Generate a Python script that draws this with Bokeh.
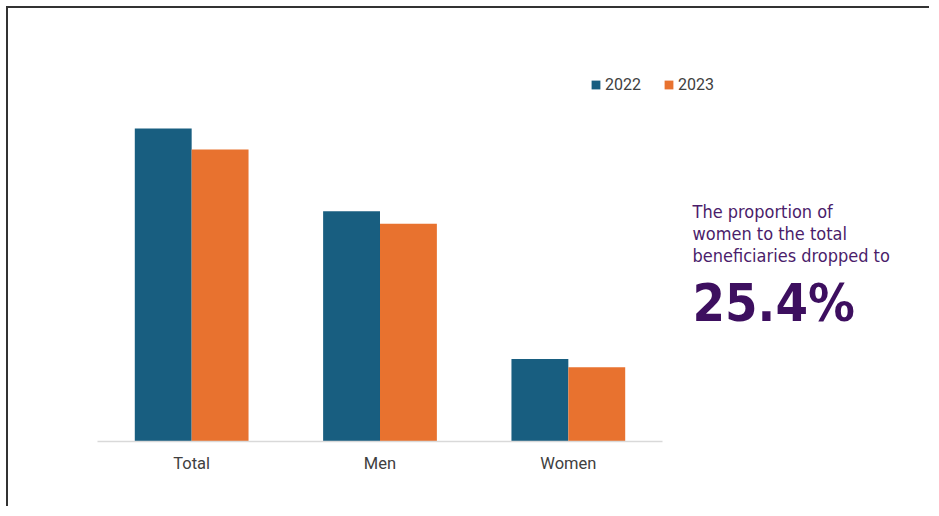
from bokeh.plotting import figure
from bokeh.models import Range1d, Legend, LegendItem, Label, FixedTicker
from bokeh.embed import file_html
from bokeh.resources import INLINE

# Data (relative scale, Total 2022 = 100)
categories = ["Total", "Men", "Women"]
years = ["2022", "2023"]
values_2022 = [100.0, 73.6, 26.4]
values_2023 = [93.3, 69.6, 23.7]
colors = ["#185e80", "#e8722f"]
note_lines = ["The proportion of", "women to the total", "beneficiaries dropped to"]
note_value = "25.4%"

n = len(categories)
centers = [i + 0.5 for i in range(n)]
bw = 0.302

p = figure(
    x_range=Range1d(0, n + 269 / 188.33),
    y_range=Range1d(0, 125.6),
    width=923, height=500,
    min_border_left=89, min_border_right=0, min_border_top=40, min_border_bottom=67,
    output_backend="svg", toolbar_location=None,
    background_fill_color="white", border_fill_color="white",
)
p.outline_line_color = None
p.xgrid.visible = False
p.ygrid.visible = False
p.yaxis.visible = False

x22 = [c - bw / 2 for c in centers]
x23 = [c + bw / 2 for c in centers]
r1 = p.vbar(x=x22, top=values_2022, width=bw, fill_color=colors[0], line_color=None)
r2 = p.vbar(x=x23, top=values_2023, width=bw, fill_color=colors[1], line_color=None)

ax = p.xaxis[0]
ax.bounds = (0, n)
ax.ticker = FixedTicker(ticks=centers)
ax.major_label_overrides = {c: lab for c, lab in zip(centers, categories)}
ax.axis_line_color = "#d9d9d9"
ax.axis_line_width = 1.5
ax.major_tick_line_color = None
ax.minor_tick_line_color = None
ax.major_label_standoff = 6
ax.major_label_text_font = "Roboto"
ax.major_label_text_font_size = "16.5px"
ax.major_label_text_color = "#404040"

legend = Legend(
    items=[LegendItem(label=years[0], renderers=[r1]), LegendItem(label=years[1], renderers=[r2])],
    orientation="horizontal", location=(493, 347),
    padding=0, margin=0, spacing=22, label_standoff=4,
    glyph_width=11, glyph_height=11,
    label_text_font="Roboto", label_text_font_size="16px", label_text_color="#404040",
    border_line_color=None, background_fill_alpha=0,
)
p.add_layout(legend, "center")

cond = "'DejaVu Sans Condensed', 'Roboto'"
purple = "#3d0f5f"
line_y = [230, 208, 186]
for txt, yy in zip(note_lines, line_y):
    p.add_layout(Label(x=595, y=yy, x_units="screen", y_units="screen", text=txt,
                       text_font=cond, text_font_size="18px",
                       text_color="#4b1d6b", text_baseline="alphabetic"))
p.add_layout(Label(x=595, y=139, x_units="screen", y_units="screen", text=note_value,
                   text_font=cond, text_font_style="bold",
                   text_font_size="52px", text_color=purple, text_baseline="alphabetic"))

p.styles = {"margin-left": "6px", "margin-top": "6px",
            "border-top": "2px solid #333", "border-left": "2px solid #333"}

open("out.html", "w").write(file_html(p, INLINE))
